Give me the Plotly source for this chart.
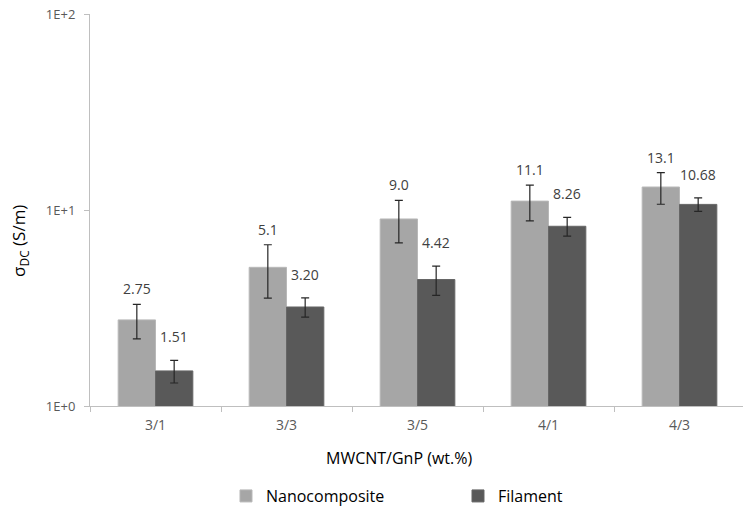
import math
import plotly.graph_objects as go

categories = ["3/1", "3/3", "3/5", "4/1", "4/3"]
nano_vals = [2.75, 5.1, 9.0, 11.1, 13.1]
nano_err = [0.55, 1.55, 2.2, 2.3, 2.4]
nano_text = ["2.75", "5.1", "9.0", "11.1", "13.1"]
fil_vals = [1.51, 3.20, 4.42, 8.26, 10.68]
fil_err = [0.2, 0.36, 0.75, 0.9, 0.85]
fil_text = ["1.51", "3.20", "4.42", "8.26", "10.68"]
ytick_vals = [1, 10, 100]
ytick_text = ["1E+0", "1E+1", "1E+2"]

FONT = "Open Sans"
NANO_COLOR = "#a6a6a6"
FIL_COLOR = "#595959"
ERR_COLOR = "#262626"

# the page body has an 8px default margin; size the figure to fit the window
W, H = 743, 504

fig = go.Figure()
fig.add_trace(go.Bar(
    x=categories, y=nano_vals, name="Nanocomposite",
    marker=dict(color=NANO_COLOR, line=dict(color="#b8b8b8", width=1)),
    error_y=dict(type="data", array=nano_err, color=ERR_COLOR, thickness=1.2, width=4),
))
fig.add_trace(go.Bar(
    x=categories, y=fil_vals, name="Filament",
    marker=dict(color=FIL_COLOR, line=dict(color="#666666", width=1)),
    error_y=dict(type="data", array=fil_err, color=ERR_COLOR, thickness=1.2, width=4),
))

bargap = 0.43
cat_px = 131
bar_px = cat_px * (1 - bargap) / 2

annotations = []
for i, c in enumerate(categories):
    annotations.append(dict(
        x=c, y=math.log10(nano_vals[i] + nano_err[i]), xref="x", yref="y",
        text=nano_text[i], showarrow=False, yanchor="bottom",
        xshift=-bar_px / 2, yshift=4,
        font=dict(family=FONT, size=14, color="#404040")))
    annotations.append(dict(
        x=c, y=math.log10(fil_vals[i] + fil_err[i]), xref="x", yref="y",
        text=fil_text[i], showarrow=False, yanchor="bottom",
        xshift=bar_px / 2, yshift=12,
        font=dict(family=FONT, size=14, color="#404040")))

annotations.append(dict(
    x=0.472, y=-0.133, xref="paper", yref="paper", xanchor="center", yanchor="middle",
    text="MWCNT/GnP (wt.%)", showarrow=False,
    font=dict(family=FONT, size=16, color="#000000")))
annotations.append(dict(
    x=-0.107, y=0.421, xref="paper", yref="paper", xanchor="center", yanchor="middle",
    text="σ<sub>DC</sub> (S/m)", showarrow=False, textangle=-90,
    font=dict(family=FONT, size=17, color="#000000")))

fig.update_layout(
    width=W, height=H,
    margin=dict(l=82, r=6, t=6, b=106, autoexpand=False),
    paper_bgcolor="white", plot_bgcolor="white",
    barmode="group", bargap=bargap, bargroupgap=0,
    font=dict(family=FONT, size=12, color="#595959"),
    showlegend=True,
    legend=dict(orientation="h", xref="container", yref="container",
                x=0.2934, y=0.0317, xanchor="left", yanchor="middle",
                entrywidth=187, entrywidthmode="pixels",
                font=dict(family=FONT, size=16, color="#000000"),
                bgcolor="rgba(0,0,0,0)"),
    annotations=annotations,
    xaxis=dict(showline=True, linecolor="#bfbfbf", linewidth=1, automargin=False,
               ticks="outside", tickson="boundaries", ticklen=5, tickcolor="#bfbfbf",
               ticklabelstandoff=6, ticklabeloverflow="allow",
               tickfont=dict(family=FONT, size=14, color="#595959"),
               showgrid=False, zeroline=False),
    yaxis=dict(type="log", range=[0, 2], showline=True, linecolor="#bfbfbf", linewidth=1,
               automargin=False,
               ticks="outside", ticklen=5, tickcolor="#bfbfbf",
               ticklabelstandoff=6, ticklabeloverflow="allow",
               tickvals=ytick_vals, ticktext=ytick_text,
               tickfont=dict(family=FONT, size=13, color="#595959"),
               showgrid=False, zeroline=False),
)

fig.write_html("out.html")
